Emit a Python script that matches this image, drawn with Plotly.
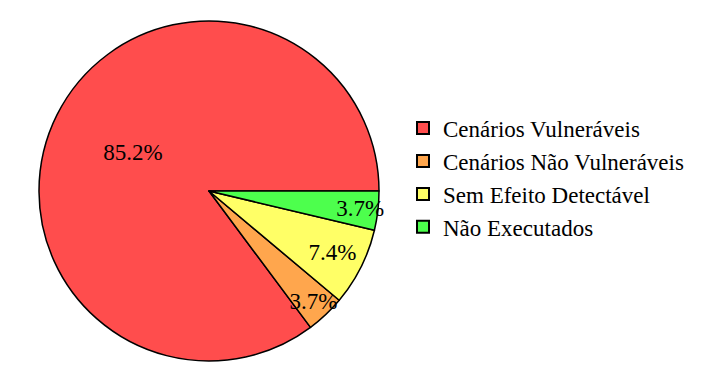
import plotly.graph_objects as go

labels = ["Cenários Vulneráveis", "Cenários Não Vulneráveis", "Sem Efeito Detectável", "Não Executados"]
values = [23, 1, 2, 1]
colors = ["#ff4d4d", "#ffa64d", "#ffff66", "#4dff4d"]

W, H = 712, 378
cx, cy, r = 209, 191, 170
FONT = "Times New Roman, Liberation Serif, serif"

# red starts at 3 o'clock and runs counterclockwise
rot = 90 + 360 * sum(values[1:]) / sum(values)

fig = go.Figure(go.Pie(
    labels=labels, values=values, sort=False,
    direction="counterclockwise", rotation=rot,
    marker=dict(colors=colors, line=dict(color="black", width=1.5)),
    textinfo="percent", textposition="inside",
    insidetextorientation="horizontal",
    texttemplate="%{percent:.1%}",
    textfont=dict(family=FONT, size=23, color="black"),
    domain=dict(x=[(cx - r) / W, (cx + r) / W], y=[(H - cy - r) / H, (H - cy + r) / H]),
))
fig.update_layout(
    width=W, height=H, margin=dict(l=0, r=0, t=0, b=0),
    paper_bgcolor="white",
    font=dict(family=FONT, size=23, color="black"),
    uniformtext=dict(minsize=23, mode="show"),
    legend=dict(x=0.566, y=0.53, xanchor="left", yanchor="middle",
                font=dict(family=FONT, size=23, color="black"),
                itemsizing="constant"),
)
fig.write_html("out.html")
